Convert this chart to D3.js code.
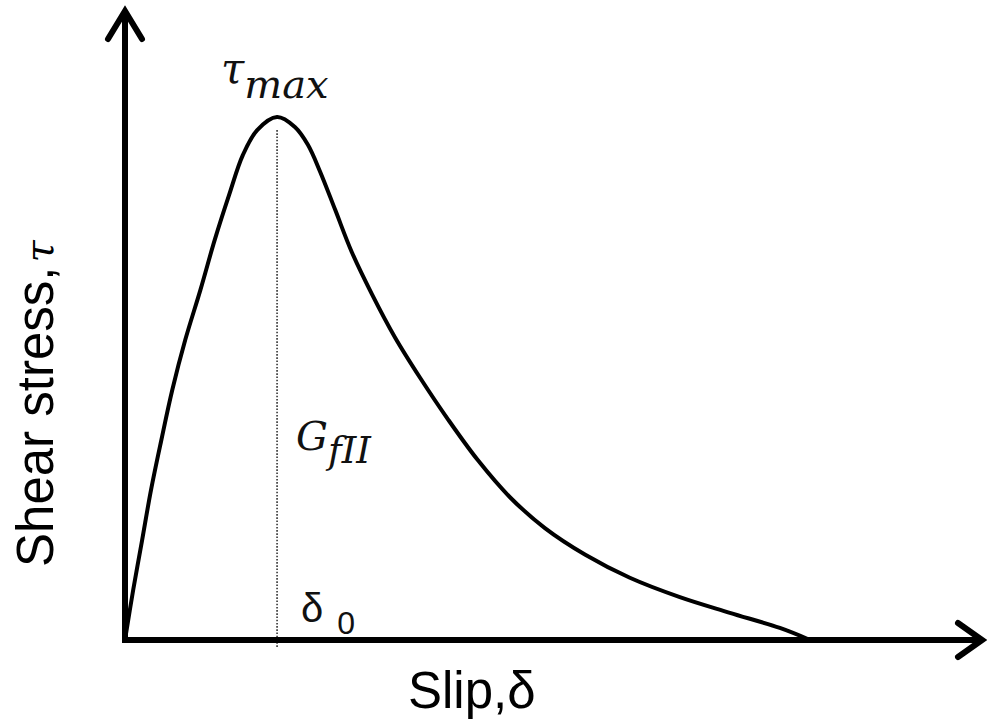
<!DOCTYPE html>
<html><head><meta charset="utf-8">
<script src="https://cdn.jsdelivr.net/npm/d3@7"></script>
<style>html,body{margin:0;padding:0;background:#fff;}svg{display:block;}</style>
</head><body>
<script>
// Normalised slip (δ/δend) and shear stress (τ/τmax)
const slip   = [0, 0.012, 0.025, 0.038, 0.053, 0.069, 0.088, 0.110, 0.131, 0.152, 0.172, 0.193, 0.222,
                0.248, 0.267, 0.285, 0.307, 0.331, 0.361, 0.394, 0.431, 0.472, 0.515, 0.562, 0.613, 0.672, 0.737, 0.810, 0.883, 0.956, 1.0];
const stress = [0, 0.096, 0.191, 0.287, 0.382, 0.478, 0.574, 0.669, 0.765, 0.851, 0.927, 0.975, 1.0,
                0.981, 0.947, 0.895, 0.822, 0.742, 0.660, 0.579, 0.501, 0.421, 0.344, 0.273, 0.214, 0.163, 0.119, 0.082, 0.052, 0.023, 0];
const peakSlip = 0.222;
const xLabel = "Slip,δ";
const yLabel = "Shear stress,";
const yLabelSym = "τ";

const W = 987, H = 727;
const svg = d3.select("body").append("svg").attr("width", W).attr("height", H);

const x = d3.scaleLinear().domain([0, 1]).range([125, 810]);
const y = d3.scaleLinear().domain([0, 1]).range([640, 117]);
const xEnd = x.invert(985), yEnd = y.invert(8);

// dotted line at peak
svg.append("line")
  .attr("x1", x(peakSlip)).attr("x2", x(peakSlip))
  .attr("y1", y(0.975)).attr("y2", y(0) + 7)
  .attr("stroke", "#333").attr("stroke-width", 1.6)
  .attr("stroke-dasharray", "1.6,1.6");

// curve
const pts = slip.map((s, i) => [s, stress[i]]);
svg.append("path")
  .attr("d", d3.line().x(d => x(d[0])).y(d => y(d[1])).curve(d3.curveCatmullRom.alpha(0.5))(pts))
  .attr("fill", "none").attr("stroke", "#000").attr("stroke-width", 4)
  .attr("stroke-linejoin", "round");

// axes
const axisW = 6;
svg.append("line").attr("x1", x(0)).attr("y1", y(0) + 3).attr("x2", x(0)).attr("y2", y(yEnd) + 2)
  .attr("stroke", "#000").attr("stroke-width", axisW);
svg.append("line").attr("x1", x(0) - 3).attr("y1", y(0)).attr("x2", x(xEnd) - 2).attr("y2", y(0))
  .attr("stroke", "#000").attr("stroke-width", axisW);
// arrowheads
svg.append("path")
  .attr("d", `M${x(0) - 17},${y(yEnd) + 31} L${x(0)},${y(yEnd) + 3} L${x(0) + 17},${y(yEnd) + 31}`)
  .attr("fill", "none").attr("stroke", "#000").attr("stroke-width", axisW).attr("stroke-linecap", "round").attr("stroke-linejoin", "miter");
svg.append("path")
  .attr("d", `M${x(xEnd) - 27},${y(0) - 17} L${x(xEnd) - 3},${y(0)} L${x(xEnd) - 27},${y(0) + 17}`)
  .attr("fill", "none").attr("stroke", "#000").attr("stroke-width", axisW).attr("stroke-linecap", "round").attr("stroke-linejoin", "miter");

// axis labels
svg.append("text").attr("x", 408).attr("y", 708)
  .attr("font-family", "Liberation Sans, Arial, sans-serif").attr("font-size", 51).attr("fill", "#000")
  .text(xLabel);
const yl = svg.append("text").attr("transform", "translate(53,567) rotate(-90)")
  .attr("font-family", "Liberation Sans, Arial, sans-serif").attr("font-size", 51).attr("fill", "#000");
yl.append("tspan").text(yLabel);
yl.append("tspan").attr("dx", 4).attr("font-family", "DejaVu Serif, serif").attr("font-style", "italic").attr("font-size", 40).text(yLabelSym);

// annotations
const serif = "DejaVu Serif, Liberation Serif, serif";
const t1 = svg.append("text").attr("x", 221).attr("y", 83).attr("font-family", serif).attr("font-style", "italic").attr("fill", "#111");
t1.append("tspan").attr("font-size", 42).text("τ");
t1.append("tspan").attr("font-size", 40).attr("dy", 15).text("max");

const t2 = svg.append("text").attr("x", 296).attr("y", 450).attr("font-family", serif).attr("font-style", "italic").attr("fill", "#111");
t2.append("tspan").attr("font-size", 40).text("G");
t2.append("tspan").attr("font-size", 37).attr("dy", 13).text("fII");

const t3 = svg.append("text").attr("x", 301).attr("y", 622).attr("font-family", "Liberation Sans, Arial, sans-serif").attr("fill", "#111");
t3.append("tspan").attr("font-size", 40).text("δ");
t3.append("tspan").attr("font-size", 32).attr("dx", 14).attr("dy", 12).text("0");
</script>
</body></html>
